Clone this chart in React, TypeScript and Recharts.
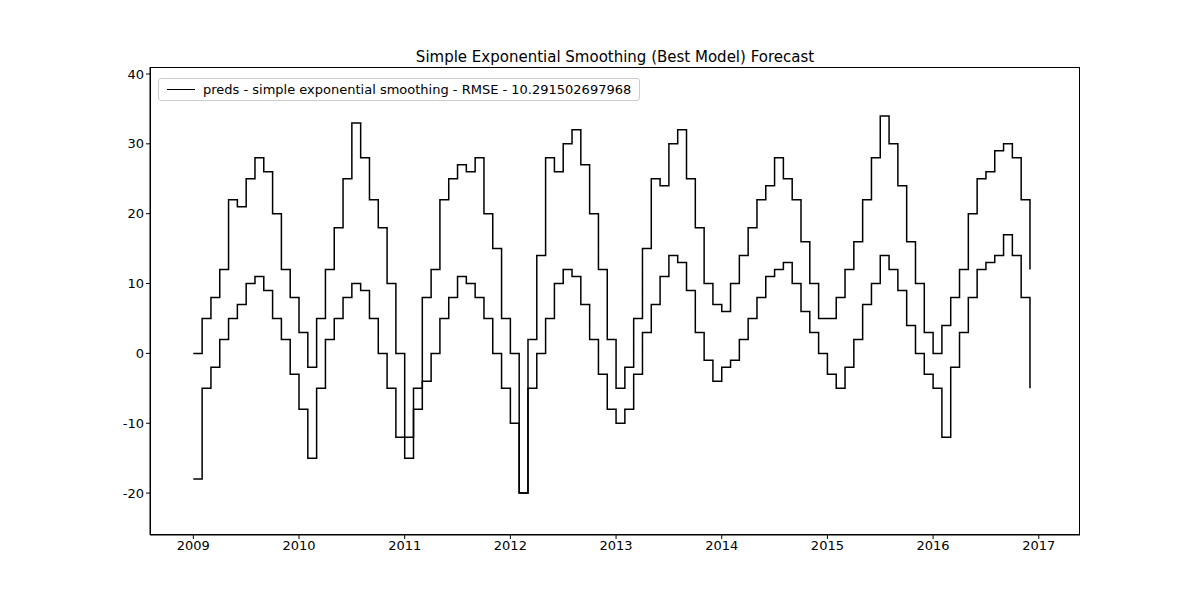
import { LineChart, Line, XAxis, YAxis } from "recharts";

const years = [2009, 2010, 2011, 2012, 2013, 2014, 2015, 2016];

// monthly upper envelope of the forecast line
const upperValues = [
    0, 5, 8, 12, 22, 21, 25, 28, 26, 20, 12, 8,
    3, -2, 5, 12, 18, 25, 33, 28, 22, 18, 10, 0,
    -12, -5, 8, 12, 22, 25, 27, 26, 28, 20, 15, 5,
    0, -20, 2, 14, 28, 26, 30, 32, 27, 20, 12, 2,
    -5, -2, 5, 15, 25, 24, 30, 32, 25, 18, 10, 7,
    6, 10, 14, 18, 22, 24, 28, 25, 22, 16, 10, 5,
    5, 8, 12, 16, 22, 28, 34, 30, 24, 16, 10, 3,
    0, 4, 8, 12, 20, 25, 26, 29, 30, 28, 22, 12,
];

// monthly lower envelope of the forecast line
const lowerValues = [
    -18, -5, -2, 2, 5, 7, 10, 11, 9, 5, 2, -3,
    -8, -15, -5, 2, 5, 8, 10, 9, 5, 0, -5, -12,
    -15, -8, -4, 0, 5, 8, 11, 10, 8, 5, 0, -5,
    -10, -20, -5, 0, 5, 10, 12, 11, 7, 2, -3, -8,
    -10, -8, -3, 3, 7, 11, 14, 13, 9, 3, -1, -4,
    -2, -1, 2, 5, 8, 11, 12, 13, 10, 6, 3, 0,
    -3, -5, -2, 2, 7, 10, 14, 12, 9, 4, 0, -3,
    -5, -12, -2, 3, 8, 12, 13, 14, 17, 14, 8, -5,
];

const xTicks = [2009, 2010, 2011, 2012, 2013, 2014, 2015, 2016, 2017];
const yTicks = [-20, -10, 0, 10, 20, 30, 40];

const data = upperValues.map((u, i) => ({
    t: years[Math.floor(i / 12)] + (i % 12) / 12,
    upper: u,
    lower: lowerValues[i],
}));

const font = "DejaVu Sans, sans-serif";

export default function App() {
    return (
        <div style={{ position: "absolute", left: 0, top: 0, width: 1200, height: 600, background: "#fff", fontFamily: font }}>
            <div style={{ position: "absolute", left: 150, width: 930, top: 48, textAlign: "center", fontSize: 15 }}>
                Simple Exponential Smoothing (Best Model) Forecast
            </div>
            <LineChart width={1200} height={600} data={data} margin={{ top: 67, right: 120, bottom: 35, left: 100 }}>
                <XAxis
                    dataKey="t"
                    type="number"
                    domain={[2008.59, 2017.39]}
                    ticks={xTicks}
                    height={30}
                    tickSize={4}
                    stroke="#000"
                    tick={{ fill: "#000", fontSize: 13, fontFamily: font }}
                    allowDataOverflow
                />
                <YAxis
                    type="number"
                    domain={[-26, 41]}
                    ticks={yTicks}
                    width={50}
                    tickSize={4}
                    stroke="#000"
                    tick={{ fill: "#000", fontSize: 13, fontFamily: font }}
                    allowDataOverflow
                />
                <Line type="stepAfter" dataKey="upper" stroke="#000" strokeWidth={1.5} dot={false} isAnimationActive={false} />
                <Line type="stepAfter" dataKey="lower" stroke="#000" strokeWidth={1.5} dot={false} isAnimationActive={false} />
            </LineChart>
            <div style={{ position: "absolute", left: 150, top: 67, width: 930, height: 468, border: "1px solid #000", boxSizing: "border-box", pointerEvents: "none" }} />
            <div style={{ position: "absolute", left: 158, top: 78, padding: "3px 8px", border: "1px solid #ccc", borderRadius: 3, background: "#fff", fontSize: 13, display: "flex", alignItems: "center", gap: 8 }}>
                <span style={{ display: "inline-block", width: 28, borderTop: "1.5px solid #000" }} />
                preds - simple exponential smoothing - RMSE - 10.291502697968
            </div>
        </div>
    );
}
